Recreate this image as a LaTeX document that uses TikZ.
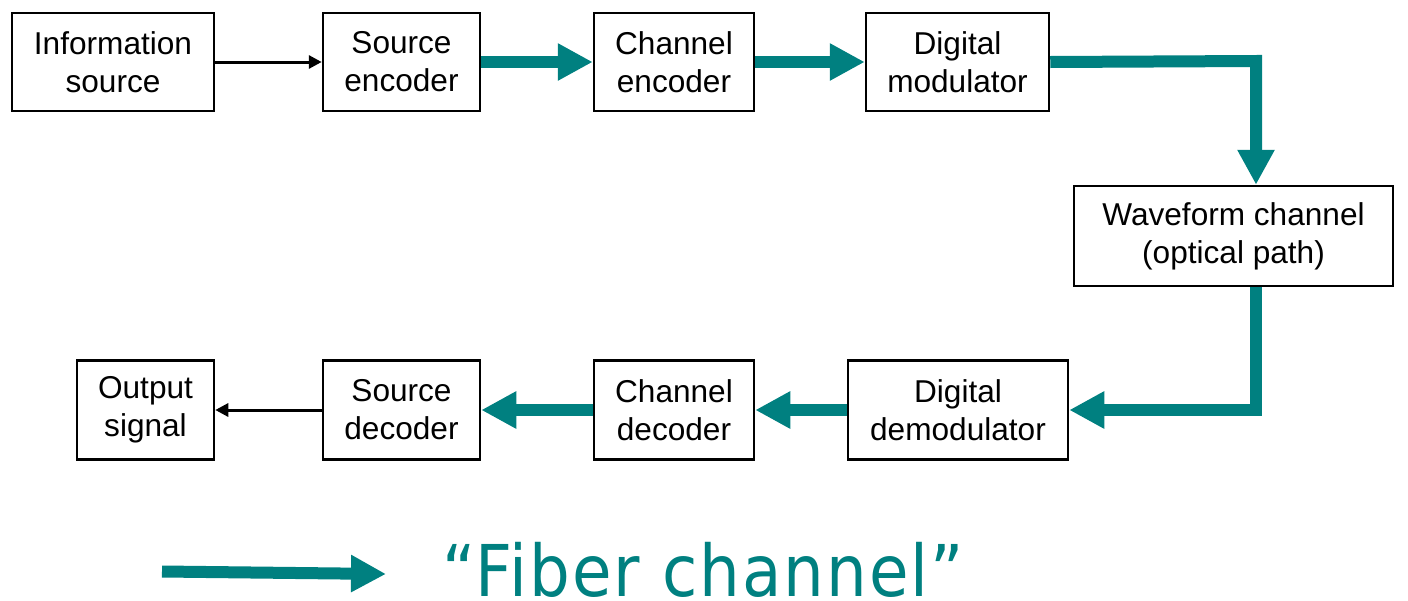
\documentclass[tikz,border=0pt]{standalone}
\usepackage{graphicx}
\usepackage{fontspec}
\setmainfont{Liberation Sans}
\newfontfamily\legendfont[LetterSpace=3]{DejaVu Sans}
\usetikzlibrary{arrows.meta}
\definecolor{fiberteal}{RGB}{0,128,128}
\tikzset{
  block/.style={draw=black, line width=1.25pt, align=center, inner sep=0pt,
    font=\fontsize{15.8pt}{19pt}\selectfont},
  thinarrow/.style={draw=black, line width=1.5pt, -{Triangle[length=6.5pt,width=6.5pt]}},
  fiber/.style={draw=fiberteal, line width=6pt, line join=miter,
    -{Triangle[length=17.5pt,width=17.5pt]}},
}
\begin{document}
\begin{tikzpicture}[x=0.5pt, y=-0.5pt]
  \useasboundingbox (0,0) rectangle (1408,600);

  % transmitter chain
  \node[block, minimum width=101pt, minimum height=49pt] (info) at (113,62) {Information\\source};
  \node[block, minimum width=78.5pt, minimum height=49pt] (senc) at (401.5,62) {Source\\encoder};
  \node[block, minimum width=80pt, minimum height=49pt] (cenc) at (674,62) {Channel\\encoder};
  \node[block, minimum width=91.5pt, minimum height=49pt] (mod) at (957.5,62) {Digital\\modulator};

  % channel
  \node[block, minimum width=159.5pt, minimum height=50pt] (wave) at (1233.5,236) {Waveform channel\\(optical path)};

  % receiver chain
  \node[block, minimum width=110pt, minimum height=49.5pt] (demod) at (958,410) {Digital\\demodulator};
  \node[block, minimum width=80pt, minimum height=49.5pt] (cdec) at (674,410) {Channel\\decoder};
  \node[block, minimum width=78.5pt, minimum height=49.5pt] (sdec) at (401.5,410) {Source\\decoder};
  \node[block, minimum width=68.5pt, minimum height=49.5pt] (out) at (145.5,410) {Output\\signal};

  % connections
  \draw[thinarrow] (info) -- (senc);
  \draw[fiber] (senc) -- (cenc);
  \draw[fiber] (cenc) -- (mod);
  \coordinate (bend) at (1256,61);
  \draw[fiber] (mod.east) -- (bend) -- (bend |- wave.north);
  \draw[fiber] (bend |- wave.south) |- (demod.east);
  \draw[fiber] (demod) -- (cdec);
  \draw[fiber] (cdec) -- (sdec);
  \draw[thinarrow] (sdec) -- (out);

  % legend
  \coordinate (lgA) at (162,571.5);
  \coordinate (lgB) at (386,574);
  \draw[fiber] (lgA) -- (lgB);
  \node[text=fiberteal, inner sep=0pt, anchor=base] (lgtext) at (703,596)
    {\scalebox{0.9}[1]{\legendfont\fontsize{35.7pt}{40pt}\selectfont “Fiber channel”}};
\end{tikzpicture}
\end{document}
